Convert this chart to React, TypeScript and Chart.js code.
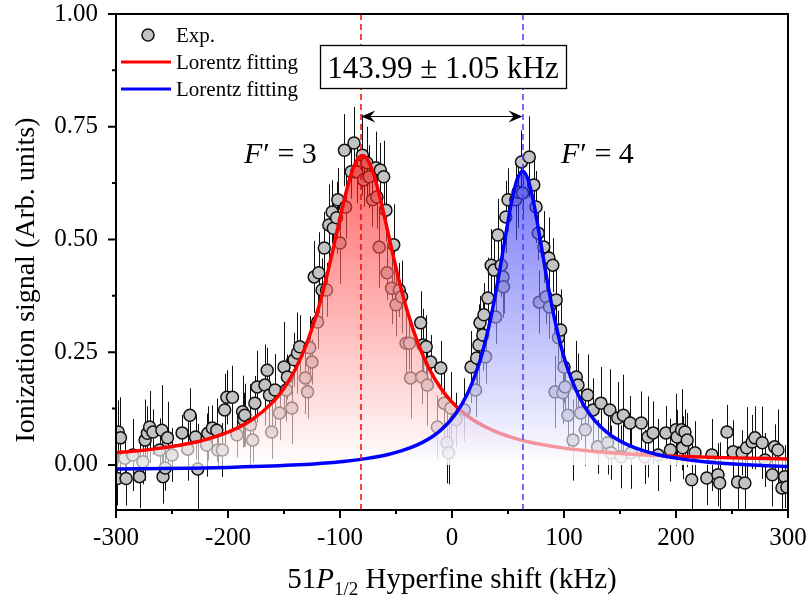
import React, { useEffect, useRef } from 'react';
import { Chart, registerables } from 'chart.js';

Chart.register(...registerables);

const FONT = "'Liberation Serif', 'Times New Roman', Times, serif";

// ---------- Experimental data (kHz, arb. units, half error) ----------
const expX = [
  -299, -298, -296, -292, -291, -285, -279, -276, -274, -272,
  -270, -267, -261, -259, -258, -256, -254, -250, -241, -236,
  -234, -229, -227, -219, -218, -214, -210, -209, -205, -203,
  -201, -196, -192, -187, -186, -185, -180, -178, -176, -174,
  -167, -165, -163, -161, -158, -154, -150, -148, -147, -143,
  -141, -138, -136, -131, -129, -127, -125, -123, -120, -119,
  -116, -114, -112, -110, -107, -106, -103, -102, -100, -96,
  -95, -90, -87.5, -85, -80, -79, -76, -74, -71, -68,
  -67, -65, -64, -61, -59, -58, -54, -52, -50, -47,
  -45, -41, -38, -37, -28, -27, -26, -23, -22, -19,
  -13, -10, -7, -4.5, -3, -1, 3.5, 11, 17, 21,
  22, 24, 25, 27.5, 28.5, 30, 32, 35, 37.5, 39,
  41, 44, 45.5, 46, 48, 50, 57, 59, 62, 63,
  69, 73, 75, 77, 78, 82, 84, 86.5, 87, 90,
  92, 93, 95, 97, 99, 100, 101, 103.5, 108, 111,
  112.5, 115, 119, 121, 126, 130, 133, 139, 141, 142,
  148, 151, 153, 159, 160, 169, 172, 175, 179.5, 184,
  191, 195, 200, 201, 205, 206, 208, 210, 214, 217,
  227.5, 232, 237.5, 239, 245.5, 251, 255, 259, 261.5, 263,
  268, 270.5, 277, 279.5, 286, 288, 291, 294.6, 297, 299,
];
const expY = [
  -0.03, 0.073, 0.06, 0.015, -0.03, 0.022, -0.026, 0.007, 0.055, 0.07,
  0.084, 0.073, 0.033, 0.077, -0.026, -0.007, 0.06, 0.022, 0.071, 0.035,
  0.11, 0.062, -0.009, 0.044, 0.07, 0.082, 0.077, 0.033, 0.033, 0.122,
  0.15, 0.15, 0.067, 0.118, 0.1, 0.11, 0.089, 0.055, 0.137, 0.173,
  0.177, 0.21, 0.155, 0.073, 0.166, 0.115, 0.217, 0.166, 0.195, 0.126,
  0.233, 0.248, 0.262, 0.193, 0.162, 0.26, 0.228, 0.417, 0.317, 0.426,
  0.388, 0.481, 0.388, 0.532, 0.561, 0.525, 0.548, 0.588, 0.492, 0.698,
  0.572, 0.65, 0.714, 0.65, 0.687, 0.632, 0.67, 0.639, 0.588, 0.659,
  0.594, 0.483, 0.654, 0.639, 0.565, 0.426, 0.392, 0.488, 0.355, 0.388,
  0.373, 0.27, 0.27, 0.193, 0.315, 0.195, 0.266, 0.262, 0.177, 0.228,
  0.084, 0.215, 0.137, 0.049, 0.027, 0.126, 0.1, 0.122, 0.217, 0.166,
  0.237, 0.266, 0.315, 0.288, 0.333, 0.24, 0.37, 0.443, 0.432, 0.328,
  0.51, 0.443, 0.417, 0.395, 0.55, 0.588, 0.588, 0.605, 0.672, 0.603,
  0.683, 0.621, 0.572, 0.514, 0.361, 0.483, 0.373, 0.459, 0.35, 0.443,
  0.162, 0.366, 0.282, 0.299, 0.16, 0.217, 0.173, 0.11, 0.055, 0.195,
  0.177, 0.115, 0.078, 0.155, 0.122, 0.04, 0.137, 0.049, 0.122, 0.027,
  0.104, 0.018, 0.11, 0.093, 0.027, 0.093, 0.018, 0.062, 0.071, 0.022,
  0.071, 0.033, 0.078, 0.062, 0.078, 0.038, 0.073, 0.055, -0.033, 0.027,
  -0.029, 0.022, -0.022, -0.04, 0.073, 0.029, -0.038, 0.027, -0.04, 0.038,
  0.051, 0.06, 0.049, 0.011, -0.022, 0.04, 0.033, -0.051, -0.026, -0.049,
];
const expErr = [
  0.06, 0.07, 0.09, 0.05, 0.06, 0.08, 0.07, 0.05, 0.09, 0.06,
  0.08, 0.05, 0.07, 0.10, 0.06, 0.05, 0.08, 0.06, 0.04, 0.07,
  0.06, 0.05, 0.10, 0.07, 0.06, 0.05, 0.07, 0.04, 0.06, 0.08,
  0.06, 0.07, 0.05, 0.08, 0.06, 0.07, 0.09, 0.05, 0.06, 0.08,
  0.09, 0.05, 0.07, 0.06, 0.08, 0.06, 0.10, 0.07, 0.05, 0.08,
  0.06, 0.09, 0.07, 0.08, 0.06, 0.07, 0.05, 0.08, 0.06, 0.09,
  0.07, 0.08, 0.06, 0.09, 0.07, 0.06, 0.08, 0.07, 0.09, 0.08,
  0.07, 0.06, 0.08, 0.07, 0.09, 0.06, 0.08, 0.07, 0.06, 0.08,
  0.07, 0.09, 0.06, 0.08, 0.07, 0.06, 0.08, 0.09, 0.07, 0.06,
  0.08, 0.07, 0.06, 0.09, 0.07, 0.06, 0.08, 0.07, 0.09, 0.06,
  0.07, 0.06, 0.08, 0.09, 0.07, 0.08, 0.06, 0.07, 0.08, 0.06,
  0.07, 0.09, 0.06, 0.08, 0.07, 0.06, 0.09, 0.08, 0.07, 0.06,
  0.08, 0.07, 0.09, 0.06, 0.08, 0.07, 0.09, 0.08, 0.07, 0.06,
  0.09, 0.07, 0.08, 0.06, 0.07, 0.08, 0.06, 0.09, 0.07, 0.06,
  0.08, 0.07, 0.06, 0.09, 0.07, 0.08, 0.06, 0.07, 0.09, 0.08,
  0.07, 0.06, 0.08, 0.09, 0.07, 0.06, 0.08, 0.07, 0.09, 0.06,
  0.08, 0.07, 0.09, 0.06, 0.08, 0.07, 0.06, 0.09, 0.07, 0.08,
  0.06, 0.07, 0.08, 0.06, 0.09, 0.07, 0.05, 0.06, 0.08, 0.07,
  0.06, 0.08, 0.07, 0.09, 0.06, 0.07, 0.08, 0.05, 0.07, 0.09,
  0.06, 0.07, 0.08, 0.06, 0.07, 0.05, 0.09, 0.06, 0.07, 0.08,
];

// ---------- Lorentz fit curves (tabulated) ----------
const redFitX = [
  -300, -280, -260, -240, -220, -200, -180, -160, -150, -140, -130, -120,
  -115, -110, -105, -100, -95, -90, -85, -80, -75, -70, -65, -60, -55, -50,
  -45, -40, -30, -20, -10, 0, 10, 20, 40, 60, 80, 100, 130, 160, 200, 250, 300,
];
const redFitY = [
  0.0272, 0.0315, 0.0372, 0.0451, 0.0561, 0.0725, 0.0978, 0.1393, 0.1702, 0.2116, 0.2673, 0.3417,
  0.3869, 0.4372, 0.4915, 0.5472, 0.6003, 0.645, 0.6753, 0.686, 0.6753, 0.645, 0.6003, 0.5472, 0.4915, 0.4372,
  0.3869, 0.3417, 0.2673, 0.2116, 0.1702, 0.1393, 0.1158, 0.0978, 0.0725, 0.0561, 0.0451, 0.0372, 0.0292, 0.0239, 0.0193, 0.0156, 0.0133,
];
const blueFitX = [
  -300, -237, -200, -137, -97, -77, -57, -37, -17, -7,
  3, 13, 23, 28, 33, 38, 43, 48, 53, 58,
  63, 68, 73, 78, 83, 88, 93, 98, 103, 113,
  123, 133, 143, 163, 183, 203, 223, 263, 300,
];
const blueFitY = [
  -0.0093, -0.0073, -0.0055, 0.0002, 0.0077, 0.0139, 0.0232, 0.0381, 0.0637, 0.0839,
  0.1124, 0.1539, 0.2156, 0.2572, 0.3077, 0.368, 0.4372, 0.5111, 0.5808, 0.6323,
  0.6515, 0.6323, 0.5808, 0.5111, 0.4372, 0.368, 0.3077, 0.2572, 0.2156, 0.1539,
  0.1124, 0.0839, 0.0637, 0.0381, 0.0232, 0.0139, 0.0077, 0.0002, -0.0037,
];

// ---------- Peak centres, separation, ticks ----------
const peakCenters = [-81, 63];
const peakNames = ['3', '4'];
const separationText = '143.99 \u00b1 1.05 kHz';
const arrowLevel = 0.774;
const xTicks = [-300, -200, -100, 0, 100, 200, 300];
const xMinorTicks = [-250, -150, -50, 50, 150, 250];
const yTicks = [0, 0.25, 0.5, 0.75, 1.0];
const yMinorTicks = [0.125, 0.375, 0.625, 0.875];

function makeFill(rgb: string) {
  return (context: any) => {
    const chart = context.chart;
    const { chartArea, scales } = chart;
    if (!chartArea) return 'transparent';
    const top = scales.y.getPixelForValue(0.7);
    const bottom = scales.y.getPixelForValue(0);
    const g = chart.ctx.createLinearGradient(0, top, 0, bottom);
    g.addColorStop(0, `rgba(${rgb},0.6)`);
    g.addColorStop(1, 'rgba(255,255,255,0.62)');
    return g;
  };
}

function arrowHead(ctx: CanvasRenderingContext2D, x: number, y: number, dir: number) {
  ctx.beginPath();
  ctx.moveTo(x, y);
  ctx.lineTo(x - dir * 14, y - 6);
  ctx.lineTo(x - dir * 9, y);
  ctx.lineTo(x - dir * 14, y + 6);
  ctx.closePath();
  ctx.fill();
}

const overlayPlugin = {
  id: 'overlay',
  beforeDatasetsDraw(chart: any) {
    const { ctx, chartArea: ca, scales } = chart;
    const x = scales.x, y = scales.y;
    ctx.save();
    ctx.beginPath();
    ctx.rect(ca.left, ca.top, ca.width, ca.height);
    ctx.clip();
    ctx.strokeStyle = '#111';
    ctx.lineWidth = 1;
    ctx.beginPath();
    for (let i = 0; i < expX.length; i++) {
      const px = Math.round(x.getPixelForValue(expX[i])) + 0.5;
      ctx.moveTo(px, y.getPixelForValue(expY[i] - expErr[i]));
      ctx.lineTo(px, y.getPixelForValue(expY[i] + expErr[i]));
    }
    ctx.stroke();
    ctx.restore();
  },
  afterDatasetsDraw(chart: any) {
    const { ctx, chartArea: ca, scales } = chart;
    const x = scales.x, y = scales.y;
    ctx.save();
    // dashed centre lines
    const dashColors = ['#ff0000', '#4040ff'];
    peakCenters.forEach((c, i) => {
      const px = Math.round(x.getPixelForValue(c));
      ctx.strokeStyle = dashColors[i];
      ctx.lineWidth = 1.5;
      ctx.setLineDash([6, 4]);
      ctx.beginPath();
      ctx.moveTo(px, ca.top);
      ctx.lineTo(px, ca.bottom);
      ctx.stroke();
    });
    ctx.setLineDash([]);
    // double arrow
    const ax1 = x.getPixelForValue(peakCenters[0]);
    const ax2 = x.getPixelForValue(peakCenters[1]);
    const ay = Math.round(y.getPixelForValue(arrowLevel)) + 0.5;
    ctx.strokeStyle = '#000';
    ctx.fillStyle = '#000';
    ctx.lineWidth = 1.2;
    ctx.beginPath();
    ctx.moveTo(ax1 + 6, ay);
    ctx.lineTo(ax2 - 6, ay);
    ctx.stroke();
    arrowHead(ctx, ax1, ay, -1);
    arrowHead(ctx, ax2, ay, 1);
    // annotation box
    ctx.fillStyle = '#fff';
    ctx.fillRect(320, 45, 246, 43);
    ctx.strokeStyle = '#000';
    ctx.lineWidth = 1.3;
    ctx.strokeRect(320.5, 45.5, 246, 43);
    ctx.fillStyle = '#000';
    ctx.font = `31px ${FONT}`;
    ctx.textAlign = 'center';
    ctx.textBaseline = 'alphabetic';
    ctx.fillText(separationText, 443, 78);
    // F' labels
    const labelX = [244, 561];
    peakNames.forEach((n, i) => {
      let lx = labelX[i];
      ctx.textAlign = 'left';
      ctx.font = `italic 30px ${FONT}`;
      ctx.fillText('F', lx, 163);
      lx += ctx.measureText('F').width + 1;
      ctx.font = `30px ${FONT}`;
      ctx.fillText('\u2032 = ' + n, lx, 163);
    });
    ctx.restore();
  },
  afterDraw(chart: any) {
    const { ctx, chartArea: ca, scales } = chart;
    const x = scales.x, y = scales.y;
    ctx.save();
    ctx.strokeStyle = '#000';
    ctx.lineWidth = 2;
    ctx.strokeRect(ca.left, ca.top, ca.right - ca.left, ca.bottom - ca.top);
    ctx.beginPath();
    xTicks.forEach((v) => {
      const px = x.getPixelForValue(v);
      ctx.moveTo(px, ca.bottom);
      ctx.lineTo(px, ca.bottom + 8);
    });
    xMinorTicks.forEach((v) => {
      const px = x.getPixelForValue(v);
      ctx.moveTo(px, ca.bottom);
      ctx.lineTo(px, ca.bottom + 4);
    });
    yTicks.forEach((v) => {
      const py = y.getPixelForValue(v);
      ctx.moveTo(ca.left, py);
      ctx.lineTo(ca.left - 8, py);
    });
    yMinorTicks.forEach((v) => {
      const py = y.getPixelForValue(v);
      ctx.moveTo(ca.left, py);
      ctx.lineTo(ca.left - 4, py);
    });
    ctx.stroke();

    // axis titles
    ctx.fillStyle = '#000';
    ctx.textBaseline = 'alphabetic';
    const size = 29;
    const parts: [string, string][] = [
      ['51', `${size}px ${FONT}`],
      ['P', `italic ${size}px ${FONT}`],
      ['1/2', `19px ${FONT}`],
      [' Hyperfine shift (kHz)', `${size}px ${FONT}`],
    ];
    let total = 0;
    parts.forEach(([t, f]) => { ctx.font = f; total += ctx.measureText(t).width; });
    let tx = (ca.left + ca.right) / 2 - total / 2;
    ctx.textAlign = 'left';
    parts.forEach(([t, f], i) => {
      ctx.font = f;
      ctx.fillText(t, tx, i === 2 ? 595 : 588);
      tx += ctx.measureText(t).width;
    });

    ctx.save();
    ctx.translate(34, 280);
    ctx.rotate(-Math.PI / 2);
    ctx.font = `28px ${FONT}`;
    ctx.textAlign = 'center';
    ctx.fillText('Ionization signal (Arb. units)', 0, 0);
    ctx.restore();

    // legend
    ctx.beginPath();
    ctx.arc(148, 35, 6, 0, Math.PI * 2);
    ctx.fillStyle = '#c3c3c3';
    ctx.fill();
    ctx.lineWidth = 1.5;
    ctx.strokeStyle = '#111';
    ctx.stroke();
    ctx.fillStyle = '#000';
    ctx.font = `21px ${FONT}`;
    ctx.textAlign = 'left';
    ctx.fillText('Exp.', 176, 42);
    const legendLines: [string, number][] = [['#ff0000', 62], ['#0000ff', 89]];
    legendLines.forEach(([c, ly]) => {
      ctx.strokeStyle = c;
      ctx.lineWidth = 3;
      ctx.beginPath();
      ctx.moveTo(121, ly);
      ctx.lineTo(171, ly);
      ctx.stroke();
      ctx.fillText('Lorentz fitting', 176, ly + 7);
    });
    ctx.restore();
  },
};

export default function App() {
  const ref = useRef<HTMLCanvasElement>(null);
  useEffect(() => {
    document.body.style.margin = '0';
    const canvas = ref.current;
    if (!canvas) return;
    const chart = new Chart(canvas, {
      type: 'line',
      data: {
        datasets: [
          {
            label: 'Exp.',
            data: expX.map((xv, i) => ({ x: xv, y: expY[i] })),
            showLine: false,
            pointRadius: 6,
            pointHoverRadius: 6,
            pointBackgroundColor: '#c3c3c3',
            pointBorderColor: '#111',
            pointBorderWidth: 1.5,
            order: 3,
            clip: 0,
          } as any,
          {
            label: 'Lorentz fitting',
            data: redFitX.map((xv, i) => ({ x: xv, y: redFitY[i] })),
            borderColor: '#ff0000',
            borderWidth: 3.5,
            pointRadius: 0,
            fill: 'origin',
            backgroundColor: makeFill('255,0,0'),
            cubicInterpolationMode: 'monotone',
            order: 2,
          } as any,
          {
            label: 'Lorentz fitting',
            data: blueFitX.map((xv, i) => ({ x: xv, y: blueFitY[i] })),
            borderColor: '#0000ff',
            borderWidth: 3.5,
            pointRadius: 0,
            fill: 'origin',
            backgroundColor: makeFill('10,10,245'),
            cubicInterpolationMode: 'monotone',
            order: 1,
          } as any,
        ],
      },
      options: {
        responsive: false,
        animation: false,
        devicePixelRatio: 1,
        events: [],
        layout: { padding: { left: 0, right: 21, top: 14, bottom: 0 } },
        plugins: { legend: { display: false }, tooltip: { enabled: false } },
        scales: {
          x: {
            type: 'linear',
            min: -300,
            max: 300,
            afterBuildTicks: (s: any) => { s.ticks = xTicks.map((v) => ({ value: v })); },
            afterFit: (s: any) => { s.height = 95; s.paddingLeft = 0; s.paddingRight = 0; },
            grid: { display: false, drawTicks: false },
            border: { display: false },
            ticks: {
              color: '#000',
              font: { size: 25, family: FONT },
              padding: 13,
              maxRotation: 0,
              autoSkip: false,
              callback: (v: any) => String(v),
            },
          },
          y: {
            type: 'linear',
            min: -0.1,
            max: 1.0,
            afterBuildTicks: (s: any) => { s.ticks = yTicks.map((v) => ({ value: v })); },
            afterFit: (s: any) => { s.width = 116; s.paddingTop = 0; s.paddingBottom = 0; },
            grid: { display: false, drawTicks: false },
            border: { display: false },
            ticks: {
              color: '#000',
              font: { size: 25, family: FONT },
              padding: 18,
              autoSkip: false,
              callback: (v: any) => Number(v).toFixed(2),
            },
          },
        },
      } as any,
      plugins: [overlayPlugin],
    });
    return () => chart.destroy();
  }, []);
  return (
    <div style={{ position: 'absolute', left: 0, top: 0, width: 809, height: 605, background: '#fff' }}>
      <canvas ref={ref} width={809} height={605} style={{ display: 'block', width: 809, height: 605 }} />
    </div>
  );
}
